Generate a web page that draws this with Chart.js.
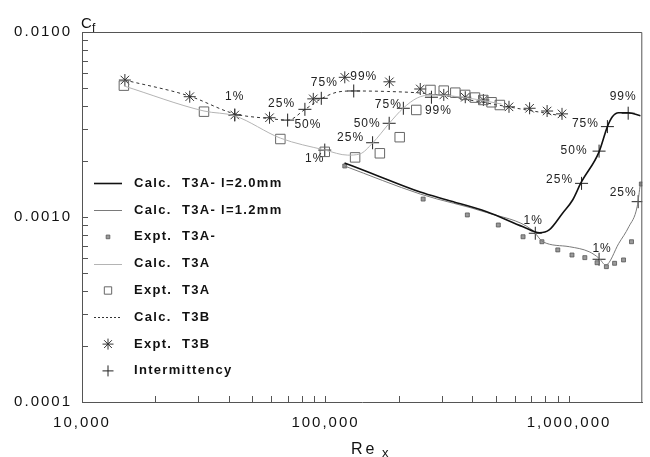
<!DOCTYPE html>
<html><head><meta charset="utf-8">
<script src="https://cdn.jsdelivr.net/npm/chart.js@4/dist/chart.umd.min.js"></script>
<style>html,body{margin:0;padding:0;background:#fff}#wrap{width:650px;height:457px}</style>
</head><body><div id="wrap"><canvas id="c" width="650" height="457"></canvas></div>
<script>
// ---------- tick labels ----------
const xTickValues = [1e4, 1e5, 1e6];
const xTickLabels = ['10,000', '100,000', '1,000,000'];
const yTickValues = [1e-4, 1e-3, 1e-2];
const yTickLabels = ['0.0001', '0.0010', '0.0100'];

// ---------- Calc. T3A- l=2.0mm ----------
const calcT3Am20Re = [119700, 153200, 244900, 315500, 459200, 647600, 756800, 828900, 942600, 1035000, 1119000, 1329000, 1438000, 1507000, 1598000, 1755000, 1965000];
const calcT3Am20Cf = [1.96e-3, 1.73e-3, 1.365e-3, 1.236e-3, 1.068e-3, 8.86e-4, 8.22e-4, 8.51e-4, 1.052e-3, 1.236e-3, 1.528e-3, 2.25e-3, 3.08e-3, 3.48e-3, 3.66e-3, 3.66e-3, 3.53e-3];

// ---------- Calc. T3A- l=1.2mm ----------
const calcT3Am12Re = [119700, 244900, 459200, 706300, 781400, 1003000, 1210000, 1329000, 1415000, 1602000, 1761000, 1905000, 1965000];
const calcT3Am12Cf = [1.887e-3, 1.331e-3, 1.057e-3, 8.51e-4, 7.35e-4, 6.91e-4, 6.49e-4, 5.98e-4, 5.50e-4, 7.21e-4, 8.86e-4, 1.138e-3, 1.528e-3];

// ---------- Expt. T3A- ----------
const exptT3AmRe = [120000, 251800, 382400, 512500, 647600, 774100, 899500, 1028500, 1161500, 1304000, 1424000, 1539000, 1675000, 1806000, 1982000];
const exptT3AmCf = [1.887e-3, 1.25e-3, 1.026e-3, 9.05e-4, 7.82e-4, 7.35e-4, 6.64e-4, 6.23e-4, 6.03e-4, 5.66e-4, 5.39e-4, 5.62e-4, 5.86e-4, 7.35e-4, 1.508e-3];

// ---------- Calc. T3A ----------
const calcT3ARe = [14860, 31700, 42400, 65250, 99550, 123500, 138200, 156100, 183100, 208800, 238100, 271600, 330600, 418000, 528500];
const calcT3ACf = [5.11e-3, 3.74e-3, 3.52e-3, 2.67e-3, 2.30e-3, 2.16e-3, 2.19e-3, 2.51e-3, 3.22e-3, 3.88e-3, 4.40e-3, 4.57e-3, 4.51e-3, 4.32e-3, 4.08e-3];

// ---------- Expt. T3A ----------
const exptT3ARe = [14860, 31700, 65250, 99300, 132300, 167200, 201700, 235900, 269800, 305900, 341300, 374600, 411000, 444600, 480800, 520000];
const exptT3ACf = [5.13e-3, 3.71e-3, 2.64e-3, 2.25e-3, 2.10e-3, 2.21e-3, 2.70e-3, 3.79e-3, 4.86e-3, 4.82e-3, 4.70e-3, 4.57e-3, 4.42e-3, 4.29e-3, 4.17e-3, 4.03e-3];

// ---------- Calc. T3B ----------
const calcT3BRe = [14970, 27540, 42400, 58320, 70300, 81740, 95900, 112500, 130600, 179700, 244900, 315500, 391500, 569600, 936000];
const calcT3BCf = [5.50e-3, 4.51e-3, 3.61e-3, 3.41e-3, 3.34e-3, 3.79e-3, 4.35e-3, 4.74e-3, 4.80e-3, 4.77e-3, 4.68e-3, 4.51e-3, 4.29e-3, 3.93e-3, 3.52e-3];

// ---------- Expt. T3B ----------
const exptT3BRe = [15000, 27700, 42400, 58900, 89100, 120000, 183000, 245000, 306000, 375000, 445000, 567000, 689000, 813000, 936000];
const exptT3BCf = [5.50e-3, 4.47e-3, 3.56e-3, 3.44e-3, 4.35e-3, 5.69e-3, 5.38e-3, 4.92e-3, 4.57e-3, 4.44e-3, 4.29e-3, 3.94e-3, 3.87e-3, 3.74e-3, 3.61e-3];

// ---------- Intermittency ----------
const interT3BRe = [42400, 69900, 82300, 96100, 130600];
const interT3BCf = [3.56e-3, 3.34e-3, 3.82e-3, 4.38e-3, 4.80e-3];
const interT3BLabels = ['1%', '25%', '50%', '75%', '99%'];
const interT3ARe = [99300, 156100, 182600, 208800, 272300];
const interT3ACf = [2.30e-3, 2.52e-3, 3.21e-3, 3.87e-3, 4.44e-3];
const interT3ALabels = ['1%', '25%', '50%', '75%', '99%'];
const interT3Am20Re = [727000, 1126000, 1329000, 1438000, 1750000];
const interT3Am20Cf = [8.17e-4, 1.52e-3, 2.27e-3, 3.08e-3, 3.64e-3];
const interT3Am20Labels = ['1%', '25%', '50%', '75%', '99%'];
const interT3Am12Re = [1329000, 1923000];
const interT3Am12Cf = [5.91e-4, 1.21e-3];
const interT3Am12Labels = ['1%', '25%'];

// label offsets (pixels, style only)
const interOffsets = [
  [[0,-18],[-6,-16],[3,15],[3,-16],[10,-14]],
  [[-10,9],[-22,-5],[-22,0],[-15,-4],[7,13]],
  [[-2,-13],[-22,-4],[-25,0],[-22,-3],[-5,-17]],
  [[3,-11],[-15,-9]]
];

const pts = (xs, ys) => xs.map((x, i) => ({x: x, y: ys[i]}));
const interGroups = [
  {re: interT3BRe, cf: interT3BCf, lab: interT3BLabels},
  {re: interT3ARe, cf: interT3ACf, lab: interT3ALabels},
  {re: interT3Am20Re, cf: interT3Am20Cf, lab: interT3Am20Labels},
  {re: interT3Am12Re, cf: interT3Am12Cf, lab: interT3Am12Labels}
];
const interAll = [];
interGroups.forEach(g => g.re.forEach((r, i) => interAll.push({x: r, y: g.cf[i]})));

const FONT = '"Liberation Sans", Arial, Helvetica, sans-serif';

const lineDs = (label, data, color, width, dash) => ({
  label, data, type: 'line', showLine: true, borderColor: color, borderWidth: width,
  borderDash: dash || [], pointRadius: 0, pointHoverRadius: 0, fill: false,
  cubicInterpolationMode: 'monotone', tension: 0.4, legendKind: 'line'
});
const markDs = (label, data, style, radius, color, width, bg) => ({
  label, data, type: 'line', showLine: false, pointStyle: style, pointRadius: radius,
  pointBorderColor: color, pointBorderWidth: width, pointBackgroundColor: bg || 'rgba(0,0,0,0)',
  borderColor: color, backgroundColor: bg || 'rgba(0,0,0,0)', legendKind: 'mark'
});

const datasets = [
  lineDs('Calc. T3A- l=2.0mm', pts(calcT3Am20Re, calcT3Am20Cf), '#111', 1.6),
  lineDs('Calc. T3A- l=1.2mm', pts(calcT3Am12Re, calcT3Am12Cf), '#7a7a7a', 1),
  markDs('Expt. T3A-', pts(exptT3AmRe, exptT3AmCf), 'rect', 2.8, '#555', 0.8, '#9a9a9a'),
  lineDs('Calc. T3A', pts(calcT3ARe, calcT3ACf), '#b4b4b4', 1),
  markDs('Expt. T3A', pts(exptT3ARe, exptT3ACf), 'rect', 6.7, '#666', 1),
  lineDs('Calc. T3B', pts(calcT3BRe, calcT3BCf), '#333', 1, [3, 3]),
  markDs('Expt. T3B', pts(exptT3BRe, exptT3BCf), 'star', 6, '#333', 1),
  markDs('Intermittency', interAll, 'cross', 6.5, '#222', 1)
];

const decorPlugin = {
  id: 'decor',
  beforeDraw(chart) { chart.ctx.letterSpacing = '2px'; },
  afterDraw(chart) {
    const {ctx, chartArea: a, scales: {x, y}} = chart;
    ctx.save();
    // frame top & right
    ctx.strokeStyle = '#555'; ctx.lineWidth = 1;
    ctx.beginPath();
    ctx.moveTo(a.left, a.top + 0.5); ctx.lineTo(a.right - 0.5, a.top + 0.5); ctx.lineTo(a.right - 0.5, a.bottom);
    ctx.stroke();
    // inward minor/major tick marks
    ctx.beginPath();
    [1e4, 1e5, 1e6].forEach(d => { for (let k = 1; k <= 9; k++) { const v = k * d; if (v > x.min * 1.001 && v < x.max * 0.999) { const px = Math.round(x.getPixelForValue(v)) + 0.5; ctx.moveTo(px, a.bottom); ctx.lineTo(px, a.bottom - 6); } } });
    [1e-4, 1e-3].forEach(d => { for (let k = 1; k <= 9; k++) { const v = k * d; if (v > y.min * 1.001 && v < y.max * 0.999) { const py = Math.round(y.getPixelForValue(v)) + 0.5; ctx.moveTo(a.left, py); ctx.lineTo(a.left + 6, py); } } });
    ctx.stroke();

    // intermittency labels
    ctx.fillStyle = '#222'; ctx.textAlign = 'center'; ctx.textBaseline = 'middle';
    ctx.font = '12px ' + FONT; ctx.letterSpacing = '1px';
    interGroups.forEach((g, gi) => g.re.forEach((r, i) => {
      const px = x.getPixelForValue(r), py = y.getPixelForValue(g.cf[i]);
      const o = interOffsets[gi][i];
      ctx.fillText(g.lab[i], px + o[0], py + o[1]);
    }));

    // axis titles
    ctx.textAlign = 'left'; ctx.textBaseline = 'alphabetic'; ctx.fillStyle = '#111';
    ctx.letterSpacing = '1px';
    ctx.font = '15px ' + FONT; ctx.fillText('C', 81, 28);
    ctx.font = '12px ' + FONT; ctx.fillText('f', 92, 32);
    ctx.letterSpacing = '3px';
    ctx.font = '16px ' + FONT; ctx.fillText('Re', 351, 454);
    ctx.letterSpacing = '0px';
    ctx.font = '13px ' + FONT; ctx.fillText('x', 382, 457);

    // legend
    const x0 = 94, x1 = 122, xm = 108, tx1 = 134, tx2 = 182, y0 = 183.3, dy = 26.8;
    chart.data.datasets.forEach((ds, i) => {
      const yy = y0 + i * dy;
      if (ds.legendKind === 'line') {
        ctx.save();
        ctx.strokeStyle = ds.borderColor; ctx.lineWidth = ds.borderWidth;
        ctx.setLineDash(ds.borderDash && ds.borderDash.length ? [2, 2] : []);
        ctx.beginPath(); ctx.moveTo(x0, Math.round(yy) + 0.5); ctx.lineTo(x1, Math.round(yy) + 0.5); ctx.stroke();
        ctx.restore();
      } else {
        ctx.save();
        ctx.strokeStyle = ds.pointBorderColor; ctx.fillStyle = ds.pointBackgroundColor; ctx.lineWidth = ds.pointBorderWidth;
        const r = ds.pointStyle === 'rect' ? (ds.pointRadius > 4 ? 5.2 : 2.6) : 5.5;
        Chart.helpers.drawPoint(ctx, {pointStyle: ds.pointStyle, radius: r, rotation: 0, borderWidth: ds.pointBorderWidth}, xm, yy);
        ctx.restore();
      }
      ctx.fillStyle = '#111'; ctx.font = 'bold 13px ' + FONT; ctx.letterSpacing = '1.3px';
      ctx.textBaseline = 'middle'; ctx.textAlign = 'left';
      const sp = ds.label.indexOf(' ');
      if (sp > 0 && ds.label !== 'Intermittency') {
        ctx.fillText(ds.label.slice(0, sp), tx1, yy);
        ctx.fillText(ds.label.slice(sp + 1), tx2, yy);
      } else {
        ctx.fillText(ds.label, tx1, yy);
      }
    });
    ctx.restore();
  }
};

new Chart(document.getElementById('c'), {
  type: 'line',
  data: {datasets},
  options: {
    responsive: false, animation: false, devicePixelRatio: 1,
    layout: {padding: {top: 32, right: 4, bottom: 0, left: 0}},
    plugins: {legend: {display: false}, tooltip: {enabled: false}},
    scales: {
      x: {
        type: 'logarithmic', min: 1e4, max: 2e6, position: 'bottom',
        grid: {display: false, drawTicks: false},
        border: {display: true, color: '#555', width: 1},
        ticks: {autoSkip: false, maxRotation: 0, padding: 12, color: '#111', font: {family: FONT, size: 15},
          callback: (v, i) => xTickLabels[i]},
        afterBuildTicks: s => { s.ticks = xTickValues.map(v => ({value: v})); },
        afterFit: s => { s.height = 55; }
      },
      y: {
        type: 'logarithmic', min: 1e-4, max: 1e-2, position: 'left',
        grid: {display: false, drawTicks: false},
        border: {display: true, color: '#555', width: 1},
        ticks: {autoSkip: false, padding: 10, color: '#111', font: {family: FONT, size: 15},
          callback: (v, i) => yTickLabels[i]},
        afterBuildTicks: s => { s.ticks = yTickValues.map(v => ({value: v})); },
        afterFit: s => { s.width = 82; }
      }
    }
  },
  plugins: [decorPlugin]
});
</script>
</body></html>
